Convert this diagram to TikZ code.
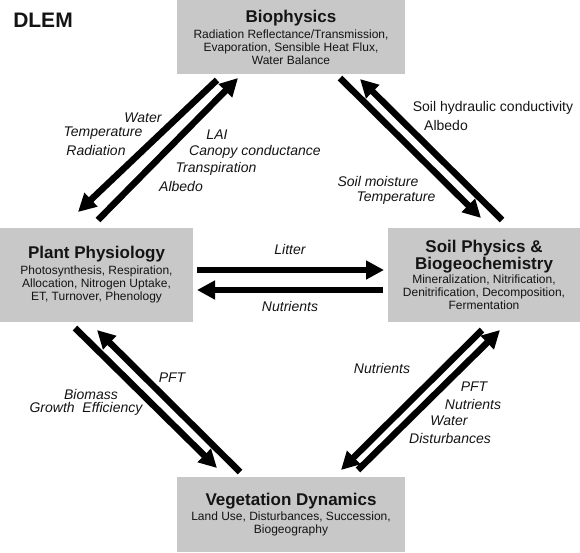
\documentclass[tikz,border=0pt]{standalone}
\usepackage{fontspec}
\setmainfont{Liberation Sans}
\usetikzlibrary{arrows.meta}
\definecolor{boxgray}{RGB}{200,200,200}
\definecolor{txt}{RGB}{20,20,20}
\begin{document}
\begin{tikzpicture}[x=1pt,y=-1pt,
  box/.style={fill=boxgray, draw=none, inner sep=0pt, align=center, text=txt,
    font=\fontsize{12}{13}\selectfont},
  lab/.style={font=\fontsize{14}{16}\selectfont\itshape, inner sep=0pt, text=txt},
  labu/.style={font=\fontsize{14}{16}\selectfont, inner sep=0pt, text=txt},
  fat/.style={line width=6.5pt, -{Triangle[width=18pt,length=18pt]}}]
\useasboundingbox (0,0) rectangle (580,552);

% boxes
\node[box, minimum width=228pt, minimum height=74pt] (bio) at (291,37)
  {{\fontsize{17}{19}\selectfont\bfseries Biophysics}\\[3pt]
   Radiation Reflectance/Transmission,\\
   Evaporation, Sensible Heat Flux,\\
   Water Balance};
\node[box, minimum width=193pt, minimum height=94pt] (plant) at (96.5,275)
  {{\fontsize{17}{19}\selectfont\bfseries Plant Physiology}\\[3pt]
   Photosynthesis, Respiration,\\
   Allocation, Nitrogen Uptake,\\
   ET, Turnover, Phenology};
\node[box, minimum width=192pt, minimum height=94pt] (soil) at (484,275)
  {{\fontsize{17}{19}\selectfont\bfseries Soil Physics \&}\\
   {\fontsize{17}{19}\selectfont\bfseries Biogeochemistry}\\[1pt]
   Mineralization, Nitrification,\\
   Denitrification, Decomposition,\\
   Fermentation};
\node[box, minimum width=228pt, minimum height=75pt] (veg) at (291,514.5)
  {{\fontsize{17}{19}\selectfont\bfseries Vegetation Dynamics}\\[2pt]
   Land Use, Disturbances, Succession,\\
   Biogeography};

\node[font=\fontsize{21}{23}\selectfont\bfseries, inner sep=0pt, text=txt] (dlem) at (43,20) {DLEM};

% arrow end points
\coordinate (tl1s) at (217,80);  \coordinate (tl1e) at (78,212);
\coordinate (tl2s) at (98,220);  \coordinate (tl2e) at (238,78);
\coordinate (tr1s) at (340,78);  \coordinate (tr1e) at (481,218);
\coordinate (tr2s) at (502,220); \coordinate (tr2e) at (360,79);
\coordinate (bl1s) at (75,328);  \coordinate (bl1e) at (217,468);
\coordinate (bl2s) at (240,472); \coordinate (bl2e) at (97,330);
\coordinate (br1s) at (358,470); \coordinate (br1e) at (500,330);
\coordinate (br2s) at (482,330); \coordinate (br2e) at (341,470);
\coordinate (h1s) at (197,270);  \coordinate (h1e) at (384,270);
\coordinate (h2s) at (383,290);  \coordinate (h2e) at (197,290);

\draw[fat] (tl1s) -- (tl1e);
\draw[fat] (tl2s) -- (tl2e);
\draw[fat] (tr1s) -- (tr1e);
\draw[fat] (tr2s) -- (tr2e);
\draw[fat] (bl1s) -- (bl1e);
\draw[fat] (bl2s) -- (bl2e);
\draw[fat] (br1s) -- (br1e);
\draw[fat] (br2s) -- (br2e);
\draw[fat] (h1s) -- (h1e);
\draw[fat] (h2s) -- (h2e);

% labels
\node[lab] (l1) at (143,118) {Water};
\node[lab] (l2) at (103,133) {Temperature};
\node[lab] (l3) at (96,150) {Radiation};
\node[lab] (l4) at (217,135) {LAI};
\node[lab] (l5) at (255,152) {Canopy conductance};
\node[lab] (l6) at (216,169) {Transpiration};
\node[lab] (l7) at (181,186) {Albedo};
\node[labu] (l8) at (493,108) {Soil hydraulic conductivity};
\node[labu] (l9) at (446,125) {Albedo};
\node[lab] (l10) at (378,181) {Soil moisture};
\node[lab] (l11) at (396,198) {Temperature};
\node[lab] (l12) at (290,249) {Litter};
\node[lab] (l13) at (290,306) {Nutrients};
\node[lab] (l14) at (172,378) {PFT};
\node[lab] (l15) at (91,394) {Biomass};
\node[lab] (l16) at (86,409) {Growth\ \ Efficiency};
\node[lab] (l17) at (382,368) {Nutrients};
\node[lab] (l18) at (474,387) {PFT};
\node[lab] (l19) at (473,404) {Nutrients};
\node[lab] (l20) at (449,421) {Water};
\node[lab] (l21) at (450,438) {Disturbances};
\end{tikzpicture}
\end{document}
